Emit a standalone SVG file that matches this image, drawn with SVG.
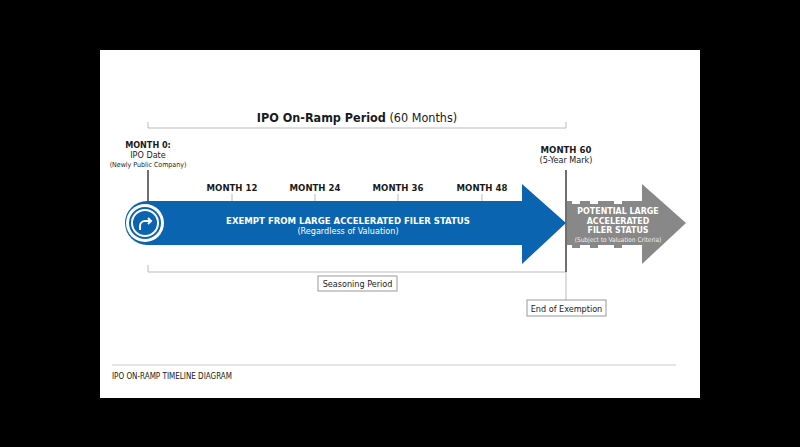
<svg xmlns="http://www.w3.org/2000/svg" width="800" height="447" viewBox="0 0 800 447">
<style>
text{font-family:"DejaVu Sans Condensed","DejaVu Sans",sans-serif;font-stretch:condensed;fill:#1a1a1a}
.b{font-weight:bold}
.ln{stroke:#bbb;stroke-width:1;fill:none}
.dk{stroke:#222;stroke-width:1.3;fill:none}
.box{fill:#fff;stroke:#999;stroke-width:1}
</style>
<rect width="800" height="447" fill="#000"/>
<rect x="100" y="50" width="600" height="348" fill="#fff"/>
<g id="connectors">
<path class="ln" d="M148 122V128H566V122"/>
<path class="ln" d="M148 265V272H566"/>
<line class="dk" x1="148" y1="170" x2="148" y2="215"/>
<line class="dk" x1="566" y1="170" x2="566" y2="272"/>
<line class="ln" x1="566" y1="272" x2="566" y2="300"/>
<g class="ln"><line x1="232" y1="194" x2="232" y2="202"/><line x1="315" y1="194" x2="315" y2="202"/><line x1="398" y1="194" x2="398" y2="202"/><line x1="482" y1="194" x2="482" y2="202"/></g>
</g>
<g id="title"><text x="357" y="122" text-anchor="middle" font-size="12.5"><tspan class="b">IPO On-Ramp Period</tspan> (60 Months)</text></g>
<g id="month0"><text x="148" y="148" text-anchor="middle" font-size="9" class="b">MONTH 0:</text>
<text x="148" y="158" text-anchor="middle" font-size="9">IPO Date</text>
<text x="148" y="167" text-anchor="middle" font-size="7">(Newly Public Company)</text></g>
<g id="months" font-size="9.5">
<text x="232" y="191" text-anchor="middle" class="b">MONTH 12</text>
<text x="315" y="191" text-anchor="middle" class="b">MONTH 24</text>
<text x="398" y="191" text-anchor="middle" class="b">MONTH 36</text>
<text x="482" y="191" text-anchor="middle" class="b">MONTH 48</text></g>
<g id="month60"><text x="566" y="153" text-anchor="middle" font-size="9.5" class="b">MONTH 60</text>
<text x="566" y="163" text-anchor="middle" font-size="9">(5-Year Mark)</text></g>
<g id="exempt">
<path d="M147 201H522V184L566 223L522 264V245H147A22 22 0 0 1 147 201Z" fill="#0a64b0"/>
<circle cx="145" cy="223" r="19" fill="#fff"/>
<circle cx="145" cy="223" r="16" fill="#0a64b0"/>
<circle cx="145" cy="223" r="13" fill="none" stroke="#fff" stroke-width="2"/>
<path d="M140 230V226A5 5 0 0 1 145 221H151M148 218L151 221L148 224" fill="none" stroke="#fff" stroke-width="2"/>
<text x="348" y="224" text-anchor="middle" font-size="9.5" class="b" style="fill:#fff">EXEMPT FROM LARGE ACCELERATED FILER STATUS</text>
<text x="348" y="234" text-anchor="middle" font-size="9" style="fill:#fff">(Regardless of Valuation)</text></g>
<g id="potential">
<path d="M567 201H572V204H580V201H590V204H598V201H614V204H622V201H642V184L686 223L642 264V245H622V248H614V245H598V248H590V245H580V248H572V245H567Z" fill="#888"/>
<text x="618" y="214" text-anchor="middle" font-size="8.8" class="b" style="fill:#fff">POTENTIAL LARGE</text>
<text x="618" y="223.5" text-anchor="middle" font-size="8.8" class="b" style="fill:#fff">ACCELERATED</text>
<text x="618" y="233" text-anchor="middle" font-size="8.8" class="b" style="fill:#fff">FILER STATUS</text>
<text x="618" y="242" text-anchor="middle" font-size="6.5" style="fill:#eee">(Subject to Valuation Criteria)</text></g>
<g id="seasoning"><rect class="box" x="318" y="276" width="79" height="15"/><text x="357.5" y="287" text-anchor="middle" font-size="9">Seasoning Period</text></g>
<g id="end"><rect class="box" x="527" y="300" width="79" height="16"/><text x="566.5" y="311.5" text-anchor="middle" font-size="9">End of Exemption</text></g>
<line x1="112" y1="365" x2="676" y2="365" stroke="#ccc"/>
<text x="112" y="379" font-size="8">IPO ON-RAMP TIMELINE DIAGRAM</text>
</svg>
